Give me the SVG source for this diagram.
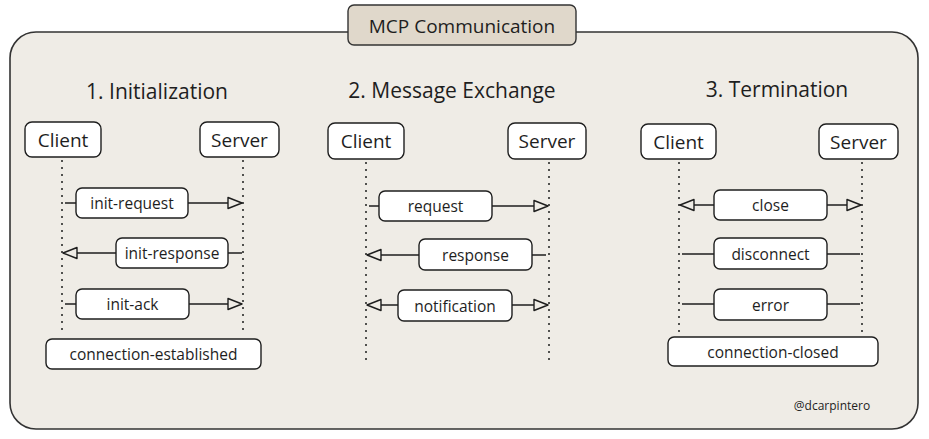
<svg xmlns="http://www.w3.org/2000/svg" width="929" height="439" viewBox="0 0 929 439">
<style>
  .txt { font-family: "Open Sans", "Liberation Sans", sans-serif; fill: #1e1e1e; text-anchor: middle; dominant-baseline: central; }
  .box { fill: #ffffff; stroke: #1e1e1e; stroke-width: 1.4; }
  .actor { font-size: 19px; }
  .msg { font-size: 15.5px; }
  .sec { font-size: 21px; }
  .life { stroke: #1e1e1e; stroke-width: 1.5; stroke-dasharray: 2 5; fill: none; }
  .arr { stroke: #1e1e1e; stroke-width: 1.4; fill: none; }
</style>
<defs>
  <marker id="tri" markerUnits="userSpaceOnUse" markerWidth="16" markerHeight="14" viewBox="0 0 16 14" refX="15" refY="7" orient="auto-start-reverse">
    <path d="M1,1.5 L15,7 L1,12.5 Z" fill="#efece6" stroke="#1e1e1e" stroke-width="1.4" stroke-linejoin="round"/>
  </marker>
</defs>

<g id="container">
  <rect x="10" y="32" width="908" height="397" rx="26" fill="#efece6" stroke="#333333" stroke-width="1.6"/>
</g>
<g id="title">
  <rect x="348" y="5" width="228" height="40" rx="6" fill="#e0d8cb" stroke="#333333" stroke-width="1.4"/>
  <text class="txt" x="462" y="26" font-size="19">MCP Communication</text>
</g>

<g id="section-titles">
  <text class="txt sec" x="157" y="91">1. Initialization</text>
  <text class="txt sec" x="452" y="90">2. Message Exchange</text>
  <text class="txt sec" x="777" y="89">3. Termination</text>
</g>

<g id="connectors">
  <!-- lifelines -->
  <line class="life" x1="62" y1="160" x2="62" y2="335"/>
  <line class="life" x1="243" y1="160" x2="243" y2="335"/>
  <line class="life" x1="366" y1="162" x2="366" y2="360"/>
  <line class="life" x1="549" y1="162" x2="549" y2="360"/>
  <line class="life" x1="679" y1="162" x2="679" y2="337"/>
  <line class="life" x1="862" y1="162" x2="862" y2="337"/>
  <!-- section 1 -->
  <line class="arr" x1="65" y1="203" x2="242" y2="203" marker-end="url(#tri)"/>
  <line class="arr" x1="242" y1="253" x2="63" y2="253" marker-end="url(#tri)"/>
  <line class="arr" x1="65" y1="304" x2="242" y2="304" marker-end="url(#tri)"/>
  <!-- section 2 -->
  <line class="arr" x1="369" y1="206" x2="548" y2="206" marker-end="url(#tri)"/>
  <line class="arr" x1="546" y1="255" x2="367" y2="255" marker-end="url(#tri)"/>
  <line class="arr" x1="367" y1="305" x2="548" y2="305" marker-start="url(#tri)" marker-end="url(#tri)"/>
  <!-- section 3 -->
  <line class="arr" x1="680" y1="205" x2="861" y2="205" marker-start="url(#tri)" marker-end="url(#tri)"/>
  <line class="arr" x1="682" y1="254" x2="860" y2="254"/>
  <line class="arr" x1="682" y1="304" x2="860" y2="304"/>
</g>

<g id="client-1"><rect class="box" x="25" y="122" width="76" height="35" rx="7"/><text class="txt actor" x="63" y="139.5">Client</text></g>
<g id="server-1"><rect class="box" x="200" y="122" width="79" height="35" rx="7"/><text class="txt actor" x="239.5" y="139.5">Server</text></g>
<g id="init-request"><rect class="box" x="76" y="188" width="112" height="30" rx="6"/><text class="txt msg" x="132" y="203">init-request</text></g>
<g id="init-response"><rect class="box" x="116" y="238" width="112" height="30" rx="6"/><text class="txt msg" x="172" y="253">init-response</text></g>
<g id="init-ack"><rect class="box" x="76" y="289" width="113" height="30" rx="6"/><text class="txt msg" x="132.5" y="304">init-ack</text></g>
<g id="connection-established"><rect class="box" x="46" y="339" width="215" height="30" rx="6"/><text class="txt msg" x="153.5" y="354">connection-established</text></g>

<g id="client-2"><rect class="box" x="328" y="123" width="76" height="36" rx="7"/><text class="txt actor" x="366" y="141">Client</text></g>
<g id="server-2"><rect class="box" x="508" y="123" width="78" height="36" rx="7"/><text class="txt actor" x="547" y="141">Server</text></g>
<g id="request"><rect class="box" x="379" y="191" width="113" height="30" rx="6"/><text class="txt msg" x="435.5" y="206">request</text></g>
<g id="response"><rect class="box" x="419" y="239" width="113" height="31" rx="6"/><text class="txt msg" x="475.5" y="254.5">response</text></g>
<g id="notification"><rect class="box" x="398" y="290" width="114" height="31" rx="6"/><text class="txt msg" x="455" y="305.5">notification</text></g>

<g id="client-3"><rect class="box" x="641" y="124" width="75" height="35" rx="7"/><text class="txt actor" x="678.5" y="141.5">Client</text></g>
<g id="server-3"><rect class="box" x="819" y="124" width="79" height="35" rx="7"/><text class="txt actor" x="858.5" y="141.5">Server</text></g>
<g id="close"><rect class="box" x="714" y="190" width="113" height="30" rx="6"/><text class="txt msg" x="770.5" y="205">close</text></g>
<g id="disconnect"><rect class="box" x="714" y="238" width="113" height="31" rx="6"/><text class="txt msg" x="770.5" y="253.5">disconnect</text></g>
<g id="error"><rect class="box" x="714" y="289" width="113" height="31" rx="6"/><text class="txt msg" x="770.5" y="304.5">error</text></g>
<g id="connection-closed"><rect class="box" x="668" y="337" width="210" height="29" rx="6"/><text class="txt msg" x="773" y="351.5">connection-closed</text></g>

<g id="watermark"><text class="txt" x="832" y="405" font-size="12">@dcarpintero</text></g>
</svg>
